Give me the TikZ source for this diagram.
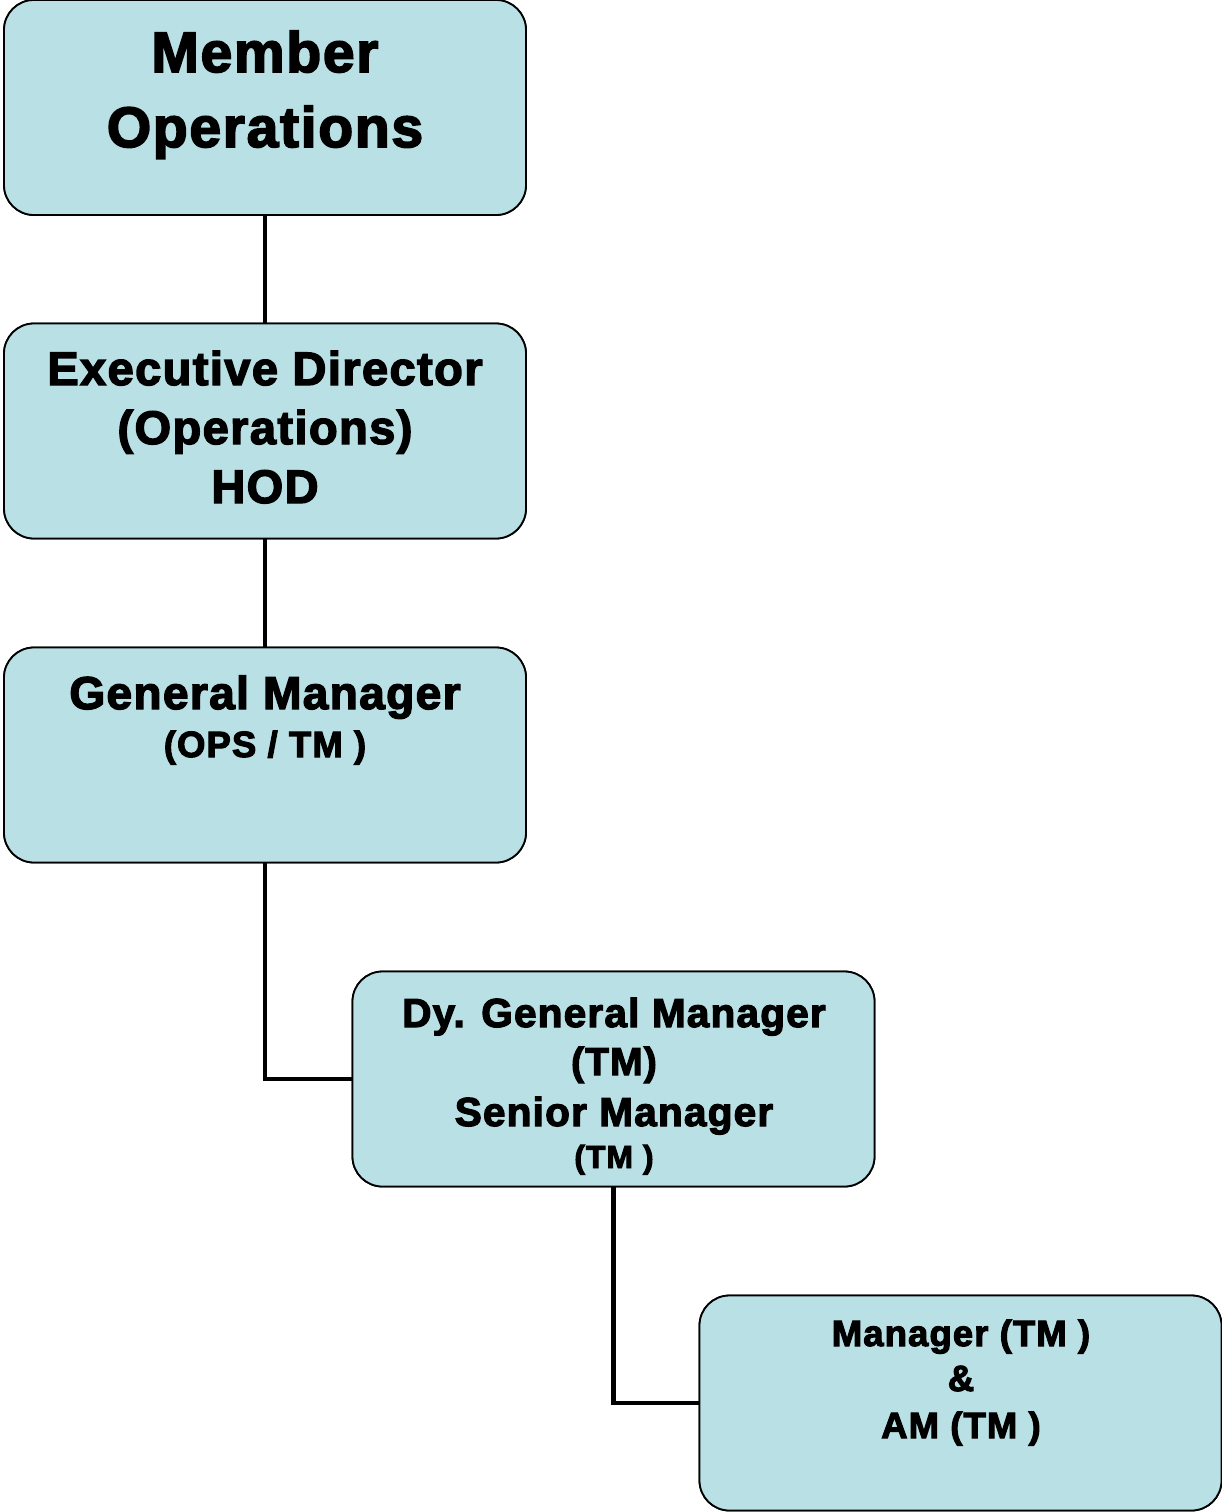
\documentclass[tikz,border=0pt]{standalone}
\usepackage{fontspec}
\newfontfamily\heavy[FakeBold=3,LetterSpace=3]{Liberation Sans Bold}
\definecolor{boxfill}{RGB}{185,224,228}
\begin{document}
\begin{tikzpicture}[x=1pt,y=-1pt,
  box/.style={draw=black,line width=1.8pt,fill=boxfill,rounded corners=30pt,inner sep=0pt,minimum width=522pt,minimum height=215pt},
  conn/.style={line width=4.5pt,draw=black},
  txt/.style={anchor=base,inner sep=0pt,font=\heavy}]
\useasboundingbox (0,0) rectangle (1221,1512);
\node[box] (b1) at (265,107.5) {};
\node[box] (b2) at (265,431) {};
\node[box] (b3) at (265,755) {};
\node[box] (b4) at (613.5,1079) {};
\node[box] (b5) at (960.5,1403) {};
\draw[conn] (b1.south) -- (b2.north);
\draw[conn] (b2.south) -- (b3.north);
\draw[conn] (b3.south) |- (b4.west);
\draw[conn] (b4.south) |- (b5.west);
% redraw boxes over connector ends
\node[box] at (b1) {};
\node[box] at (b2) {};
\node[box] at (b3) {};
\node[box] at (b4) {};
\node[box] at (b5) {};
\node[txt,font=\heavy\fontsize{57}{57}\selectfont] (t1a) at (265,72) {Member};
\node[txt,font=\heavy\fontsize{57}{57}\selectfont] (t1b) at (265,147) {Operations};
\node[txt,font=\heavy\fontsize{47}{47}\selectfont] (t2a) at (265,385) {Executive Director};
\node[txt,font=\heavy\fontsize{47}{47}\selectfont] (t2b) at (265,444) {(Operations)};
\node[txt,font=\heavy\fontsize{47}{47}\selectfont] (t2c) at (265,503) {HOD};
\node[txt,font=\heavy\fontsize{46}{46}\selectfont] (t3a) at (265,709) {General Manager};
\node[txt,font=\heavy\fontsize{36.5}{36.5}\selectfont] (t3b) at (265,757) {(OPS / TM )};
\node[txt,font=\heavy\fontsize{40.5}{40.5}\selectfont] (t4a) at (614,1027) {Dy. General Manager};
\node[txt,font=\heavy\fontsize{39}{39}\selectfont] (t4b) at (614,1075) {(TM)};
\node[txt,font=\heavy\fontsize{40.5}{40.5}\selectfont] (t4c) at (614,1126) {Senior Manager};
\node[txt,font=\heavy\fontsize{32}{32}\selectfont] (t4d) at (614,1168) {(TM )};
\node[txt,font=\heavy\fontsize{36.5}{36.5}\selectfont] (t5a) at (961,1346) {Manager (TM )};
\node[txt,font=\heavy\fontsize{36.5}{36.5}\selectfont] (t5b) at (961,1391) {\&};
\node[txt,font=\heavy\fontsize{36.5}{36.5}\selectfont] (t5c) at (961,1438) {AM (TM )};
\end{tikzpicture}
\end{document}
